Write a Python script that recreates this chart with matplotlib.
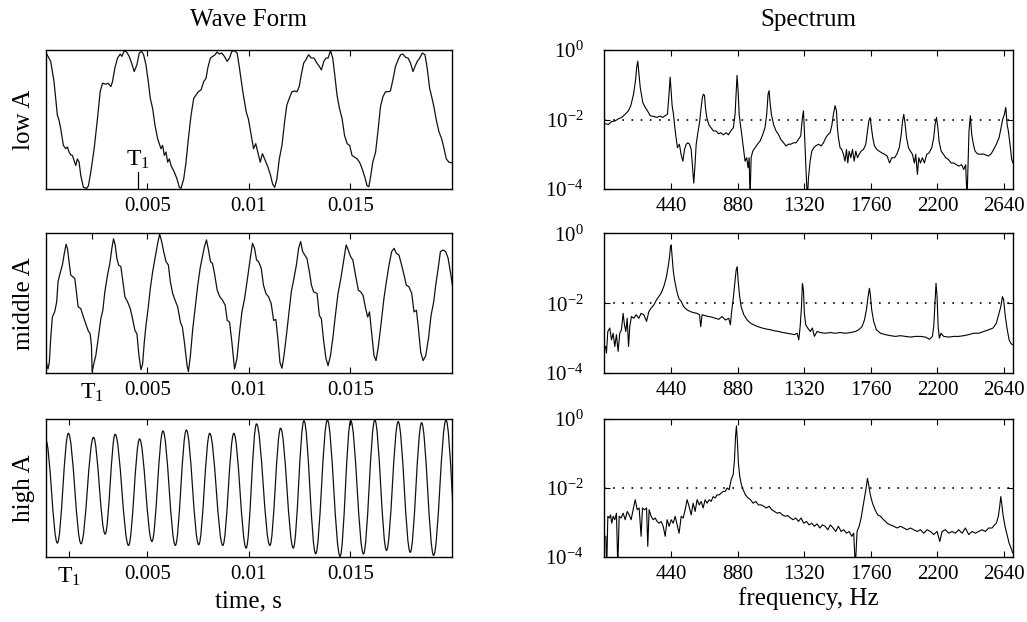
import matplotlib
matplotlib.use('Agg')
import numpy as np
import matplotlib.pyplot as plt
from matplotlib.path import Path
from matplotlib.patches import PathPatch
from matplotlib.ticker import NullLocator

plt.rcParams['font.family'] = ['Liberation Serif', 'DejaVu Serif']
plt.rcParams['mathtext.fontset'] = 'custom'
plt.rcParams['mathtext.rm'] = 'Liberation Serif'
plt.rcParams['mathtext.it'] = 'Liberation Serif:italic'
plt.rcParams['axes.linewidth'] = 1.0

# ---------------- data ----------------
# wave forms: (time in ms, level 0..1 of the panel height)
low_a_wave = [
    (0, 0.985), (0.245, 0.918), (0.410, 0.773), (0.574, 0.531), (0.656, 0.495), (0.739, 0.435),
    (0.870, 0.314), (0.985, 0.290), (1.068, 0.302), (1.150, 0.266), (1.232, 0.246), (1.314, 0.242),
    (1.397, 0.205), (1.479, 0.169), (1.561, 0.217), (1.644, 0.193), (1.726, 0.097), (1.857, 0.012),
    (2.022, 0.005), (2.104, 0.024), (2.219, 0.121), (2.385, 0.290), (2.549, 0.507), (2.681, 0.700),
    (2.796, 0.761), (2.960, 0.754), (3.075, 0.761), (3.207, 0.737), (3.289, 0.773), (3.404, 0.870),
    (3.536, 0.942), (3.668, 0.971), (3.750, 0.954), (3.865, 0.995), (3.980, 0.986), (4.112, 0.954),
    (4.227, 0.906), (4.359, 0.845), (4.490, 0.894), (4.605, 0.978), (4.720, 0.990), (4.819, 0.966),
    (4.935, 0.894), (5.050, 0.773), (5.148, 0.652), (5.263, 0.580), (5.379, 0.459), (5.510, 0.362),
    (5.592, 0.326), (5.675, 0.290), (5.757, 0.314), (5.839, 0.242), (5.921, 0.266), (6.003, 0.193),
    (6.086, 0.217), (6.168, 0.169), (6.333, 0.121), (6.464, 0.072), (6.579, 0.012), (6.661, 0.005),
    (6.793, 0.072), (6.908, 0.193), (7.023, 0.362), (7.155, 0.531), (7.286, 0.652), (7.401, 0.676),
    (7.516, 0.700), (7.648, 0.713), (7.779, 0.773), (7.894, 0.797), (7.977, 0.870), (8.108, 0.942),
    (8.223, 0.954), (8.338, 0.966), (8.437, 0.986), (8.552, 0.971), (8.667, 0.978), (8.799, 0.954),
    (8.931, 0.918), (9.046, 0.942), (9.161, 0.990), (9.293, 0.995), (9.424, 0.978), (9.539, 0.870),
    (9.704, 0.700), (9.869, 0.556), (9.984, 0.500), (10.12, 0.386), (10.23, 0.290), (10.34, 0.326),
    (10.44, 0.266), (10.56, 0.193), (10.67, 0.254), (10.81, 0.205), (10.94, 0.157), (11.05, 0.109),
    (11.17, 0.036), (11.27, 0.012), (11.38, 0.072), (11.50, 0.217), (11.63, 0.314), (11.76, 0.483),
    (11.87, 0.604), (11.99, 0.652), (12.12, 0.700), (12.25, 0.705), (12.37, 0.700), (12.48, 0.737),
    (12.58, 0.821), (12.70, 0.906), (12.81, 0.930), (12.94, 0.966), (13.08, 0.942), (13.21, 0.942),
    (13.35, 0.906), (13.47, 0.882), (13.57, 0.857), (13.69, 0.918), (13.80, 0.942), (13.90, 0.942),
    (14.02, 0.995), (14.13, 0.942), (14.23, 0.821), (14.34, 0.676), (14.46, 0.580), (14.59, 0.507),
    (14.71, 0.386), (14.84, 0.326), (14.96, 0.314), (15.08, 0.242), (15.21, 0.229), (15.33, 0.217),
    (15.45, 0.193), (15.58, 0.145), (15.71, 0.085), (15.82, 0.024), (15.91, 0.017), (15.99, 0.085),
    (16.10, 0.193), (16.24, 0.266), (16.37, 0.435), (16.48, 0.592), (16.60, 0.664), (16.73, 0.700),
    (16.86, 0.700), (16.97, 0.705), (17.09, 0.785), (17.22, 0.882), (17.35, 0.930), (17.47, 0.966),
    (17.58, 0.971), (17.72, 0.947), (17.84, 0.942), (17.96, 0.906), (18.08, 0.845), (18.18, 0.882),
    (18.29, 0.918), (18.41, 0.942), (18.54, 0.978), (18.67, 0.966), (18.78, 0.870), (18.90, 0.725),
    (19.00, 0.664), (19.11, 0.592), (19.23, 0.495), (19.36, 0.411), (19.49, 0.362), (19.61, 0.290),
    (19.72, 0.217), (19.85, 0.193), (20.02, 0.188),
]

middle_a_wave = [
    (0, 0.125), (0.048, 0.065), (0.113, 0.029), (0.179, 0.077), (0.245, 0.245), (0.327, 0.401),
    (0.442, 0.438), (0.541, 0.510), (0.607, 0.654), (0.706, 0.714), (0.821, 0.774), (0.903, 0.846),
    (1.002, 0.923), (1.068, 0.894), (1.150, 0.798), (1.232, 0.702), (1.331, 0.690), (1.430, 0.678),
    (1.512, 0.582), (1.595, 0.474), (1.726, 0.462), (1.858, 0.401), (1.973, 0.353), (2.088, 0.305),
    (2.187, 0.281), (2.250, 0.200), (2.286, 0.010), (2.385, 0.077), (2.467, 0.125), (2.582, 0.245),
    (2.714, 0.389), (2.813, 0.450), (2.911, 0.582), (3.043, 0.702), (3.158, 0.786), (3.257, 0.894),
    (3.339, 0.962), (3.421, 0.918), (3.504, 0.822), (3.586, 0.774), (3.701, 0.762), (3.800, 0.654),
    (3.899, 0.546), (4.030, 0.510), (4.162, 0.462), (4.277, 0.389), (4.392, 0.305), (4.491, 0.281),
    (4.590, 0.125), (4.689, 0.024), (4.771, 0.065), (4.853, 0.221), (4.936, 0.341), (5.051, 0.474),
    (5.150, 0.606), (5.265, 0.726), (5.380, 0.822), (5.511, 0.930), (5.610, 0.995), (5.709, 0.942),
    (5.808, 0.870), (5.923, 0.798), (6.038, 0.774), (6.136, 0.654), (6.252, 0.570), (6.367, 0.522),
    (6.498, 0.474), (6.630, 0.365), (6.729, 0.329), (6.827, 0.221), (6.959, 0.053), (7.025, 0.010),
    (7.124, 0.125), (7.239, 0.317), (7.354, 0.462), (7.486, 0.630), (7.601, 0.750), (7.716, 0.834),
    (7.815, 0.906), (7.914, 0.954), (8.013, 0.882), (8.111, 0.798), (8.210, 0.786), (8.309, 0.714),
    (8.441, 0.594), (8.572, 0.546), (8.704, 0.522), (8.836, 0.486), (8.935, 0.377), (9.050, 0.365),
    (9.165, 0.221), (9.297, 0.029), (9.412, 0.101), (9.544, 0.293), (9.659, 0.438), (9.790, 0.534),
    (9.922, 0.666), (10.07, 0.822), (10.18, 0.930), (10.28, 0.894), (10.38, 0.810), (10.48, 0.798),
    (10.61, 0.750), (10.72, 0.630), (10.84, 0.570), (10.97, 0.546), (11.10, 0.498), (11.22, 0.377),
    (11.33, 0.384), (11.43, 0.245), (11.53, 0.077), (11.63, 0.034), (11.73, 0.125), (11.83, 0.245),
    (11.96, 0.413), (12.09, 0.582), (12.22, 0.678), (12.34, 0.774), (12.45, 0.894), (12.55, 0.942),
    (12.65, 0.870), (12.75, 0.846), (12.86, 0.822), (12.98, 0.726), (13.08, 0.630), (13.19, 0.582),
    (13.36, 0.570), (13.47, 0.413), (13.57, 0.389), (13.69, 0.221), (13.80, 0.101), (13.90, 0.053),
    (14.02, 0.125), (14.13, 0.245), (14.26, 0.413), (14.39, 0.570), (14.53, 0.678), (14.66, 0.798),
    (14.79, 0.918), (14.89, 0.882), (15.01, 0.834), (15.12, 0.810), (15.25, 0.702), (15.39, 0.594),
    (15.50, 0.582), (15.62, 0.558), (15.75, 0.462), (15.85, 0.401), (15.94, 0.438), (16.04, 0.293),
    (16.16, 0.125), (16.26, 0.089), (16.37, 0.185), (16.50, 0.341), (16.65, 0.534), (16.77, 0.654),
    (16.90, 0.774), (17.03, 0.870), (17.15, 0.894), (17.26, 0.858), (17.39, 0.846), (17.52, 0.774),
    (17.64, 0.702), (17.75, 0.630), (17.88, 0.618), (18.02, 0.570), (18.13, 0.438), (18.25, 0.450),
    (18.35, 0.317), (18.46, 0.149), (18.58, 0.089), (18.71, 0.125), (18.84, 0.245), (18.97, 0.413),
    (19.10, 0.510), (19.20, 0.630), (19.32, 0.750), (19.43, 0.870), (19.56, 0.882), (19.69, 0.870),
    (19.81, 0.822), (19.92, 0.726), (20.02, 0.630),
]

# high A is a near sine: its successive peaks and troughs (time in ms, level)
high_a_extrema = [
    (0, 0.850), (0.574, 0.101), (1.117, 0.896), (1.742, 0.096), (2.351, 0.867), (2.926, 0.166),
    (3.420, 0.889), (4.078, 0.084), (4.621, 0.855), (5.230, 0.113), (5.772, 0.913), (6.381, 0.084),
    (6.924, 0.920), (7.532, 0.089), (8.075, 0.896), (8.717, 0.084), (9.260, 0.896), (9.868, 0.065),
    (10.378, 0.964), (11.036, 0.084), (11.563, 0.933), (12.188, 0.065), (12.714, 0.988), (13.290, 0.024),
    (13.866, 0.993), (14.491, 0.005), (15.017, 0.988), (15.642, 0.022), (16.202, 0.993), (16.777, 0.048),
    (17.353, 0.981), (17.945, 0.034), (18.505, 0.973), (19.097, 0.012), (19.706, 0.993), (20.28, 0.030),
]

# spectra: (frequency in Hz, log10 of magnitude)
low_a_spec = [
    (0, -2.12), (26, -2.14), (48, -2.06), (70, -2.04), (92, -1.98), (114, -1.94), (136, -1.85),
    (158, -1.75), (174, -1.60), (192, -1.27), (205, -0.88), (213, -0.49), (220, -0.32), (227, -0.64),
    (236, -1.07), (253, -1.51), (269, -1.65), (284, -1.75), (302, -1.89), (324, -1.91), (346, -1.94),
    (368, -1.90), (385, -1.94), (401, -1.89), (416, -1.85), (425, -1.36), (434, -0.78), (440, -1.17),
    (447, -1.60), (456, -1.85), (465, -2.23), (473, -2.52), (482, -2.81), (495, -2.71), (506, -3.00),
    (518, -3.20), (529, -2.86), (540, -2.71), (551, -2.67), (562, -2.71), (573, -2.86), (584, -3.49),
    (590, -3.83), (597, -3.39), (606, -2.71), (617, -2.38), (628, -2.09), (639, -1.65), (647, -1.36),
    (654, -1.27), (661, -1.31), (667, -1.65), (676, -1.94), (689, -2.14), (703, -2.23), (720, -2.33),
    (738, -2.33), (753, -2.41), (768, -2.38), (786, -2.44), (804, -2.38), (819, -2.44), (835, -2.33),
    (852, -2.23), (863, -1.85), (870, -1.27), (876, -0.73), (883, -1.17), (890, -1.85), (898, -2.14),
    (907, -2.43), (918, -2.81), (929, -3.20), (940, -3.10), (949, -3.39), (956, -3.10), (962, -4.30),
    (969, -3.10), (980, -2.91), (995, -2.81), (1011, -2.71), (1028, -2.62), (1046, -2.43), (1061, -2.23),
    (1072, -1.85), (1081, -1.27), (1088, -1.17), (1094, -1.51), (1103, -1.85), (1117, -2.14),
    (1134, -2.33), (1150, -2.43), (1165, -2.57), (1183, -2.67), (1200, -2.76), (1216, -2.71),
    (1231, -2.71), (1249, -2.67), (1266, -2.67), (1282, -2.57), (1297, -2.47), (1308, -1.94),
    (1315, -1.75), (1324, -2.62), (1333, -3.58), (1341, -4.30), (1348, -3.68), (1359, -3.20),
    (1370, -2.91), (1383, -2.81), (1396, -2.76), (1414, -2.71), (1432, -2.76), (1447, -2.67),
    (1463, -2.52), (1476, -2.44), (1491, -2.38), (1502, -2.18), (1513, -1.85), (1524, -1.60),
    (1533, -1.75), (1539, -2.23), (1546, -2.52), (1557, -2.81), (1568, -2.86), (1579, -3.00),
    (1590, -3.20), (1599, -2.86), (1608, -3.25), (1617, -2.91), (1628, -3.10), (1639, -2.86),
    (1650, -3.20), (1661, -2.91), (1672, -3.10), (1683, -3.00), (1696, -2.91), (1712, -2.86),
    (1727, -2.71), (1738, -2.33), (1747, -2.04), (1756, -1.94), (1764, -2.23), (1773, -2.52),
    (1784, -2.76), (1800, -2.86), (1815, -2.91), (1833, -2.96), (1851, -3.00), (1868, -3.05),
    (1884, -3.25), (1899, -3.10), (1917, -3.10), (1932, -3.00), (1948, -2.81), (1961, -2.43),
    (1970, -2.04), (1978, -1.85), (1987, -2.14), (1996, -2.52), (2009, -2.81), (2022, -2.91),
    (2035, -3.00), (2048, -3.25), (2057, -3.00), (2068, -3.58), (2077, -3.10), (2088, -3.25),
    (2101, -3.10), (2114, -3.25), (2130, -3.00), (2145, -2.96), (2163, -2.81), (2176, -2.52),
    (2185, -2.14), (2194, -1.94), (2203, -2.23), (2211, -2.62), (2225, -2.91), (2240, -3.00),
    (2255, -3.10), (2273, -3.15), (2291, -3.25), (2308, -3.25), (2326, -3.30), (2343, -3.34),
    (2361, -3.30), (2374, -3.44), (2387, -3.30), (2396, -4.30), (2402, -3.39), (2409, -2.33),
    (2418, -1.89), (2427, -2.43), (2438, -2.71), (2449, -2.91), (2466, -2.99), (2484, -3.00),
    (2502, -2.99), (2519, -3.02), (2537, -3.05), (2555, -2.99), (2572, -2.86), (2590, -2.71),
    (2608, -2.52), (2621, -2.23), (2632, -1.99), (2643, -1.85), (2652, -1.65), (2661, -2.14),
    (2669, -2.33), (2680, -2.71), (2691, -3.15), (2700, -3.25),
]

middle_a_spec = [
    (7, -3.24), (13, -3.43), (22, -2.81), (35, -2.71), (46, -3.05), (57, -2.86), (68, -3.24),
    (79, -2.90), (90, -3.38), (101, -2.86), (112, -2.76), (123, -2.29), (132, -2.62), (141, -2.81),
    (150, -2.43), (159, -3.24), (167, -2.67), (178, -2.38), (194, -2.43), (209, -2.33), (227, -2.43),
    (242, -2.29), (260, -2.33), (278, -2.52), (293, -2.24), (308, -2.14), (326, -2.05), (344, -1.90),
    (359, -1.81), (374, -1.71), (392, -1.52), (407, -1.29), (421, -0.95), (430, -0.67), (436, -0.38),
    (441, -0.33), (447, -0.67), (454, -1.05), (463, -1.33), (476, -1.62), (491, -1.86), (507, -1.95),
    (524, -2.10), (546, -2.19), (568, -2.24), (590, -2.27), (612, -2.29), (628, -2.33), (636, -2.67),
    (645, -2.33), (667, -2.36), (689, -2.38), (711, -2.40), (733, -2.43), (755, -2.46), (777, -2.38),
    (799, -2.48), (821, -2.43), (832, -2.62), (839, -2.29), (850, -1.90), (861, -1.43), (870, -1.05),
    (877, -0.95), (883, -1.33), (892, -1.76), (903, -2.10), (921, -2.33), (943, -2.48), (965, -2.57),
    (987, -2.62), (1013, -2.67), (1042, -2.71), (1070, -2.74), (1097, -2.76), (1123, -2.79),
    (1152, -2.81), (1180, -2.84), (1207, -2.86), (1233, -2.88), (1255, -2.90), (1273, -2.86),
    (1284, -3.05), (1293, -2.67), (1302, -2.10), (1308, -1.43), (1315, -1.62), (1321, -2.29),
    (1330, -2.62), (1343, -2.71), (1361, -2.81), (1374, -2.71), (1387, -2.95), (1405, -2.81),
    (1427, -2.84), (1460, -2.86), (1493, -2.84), (1526, -2.86), (1559, -2.84), (1592, -2.86),
    (1625, -2.84), (1658, -2.81), (1680, -2.76), (1702, -2.67), (1718, -2.48), (1731, -2.19),
    (1742, -1.81), (1751, -1.57), (1757, -1.76), (1766, -2.19), (1779, -2.52), (1797, -2.76),
    (1824, -2.86), (1857, -2.90), (1890, -2.93), (1923, -2.95), (1956, -2.93), (1989, -2.95),
    (2022, -2.97), (2055, -2.95), (2088, -2.95), (2121, -2.97), (2149, -3.03), (2167, -2.95),
    (2176, -2.67), (2185, -1.90), (2191, -1.43), (2198, -1.81), (2205, -2.67), (2213, -3.00),
    (2224, -2.86), (2242, -2.95), (2275, -2.97), (2308, -2.95), (2341, -2.95), (2374, -2.93),
    (2407, -2.90), (2440, -2.86), (2473, -2.86), (2506, -2.81), (2539, -2.76), (2568, -2.71),
    (2590, -2.57), (2605, -2.33), (2619, -2.10), (2630, -1.81), (2638, -1.90), (2649, -2.38),
    (2660, -2.71), (2674, -3.05), (2687, -3.16), (2700, -3.19),
]

high_a_spec = [
    (9, -3.40), (15, -4.30), (22, -2.82), (31, -2.87), (40, -2.78), (48, -3.02), (57, -2.82),
    (68, -2.92), (79, -2.73), (88, -4.30), (97, -2.82), (110, -2.87), (123, -2.73), (137, -2.92),
    (150, -2.68), (163, -2.78), (176, -2.92), (189, -2.63), (203, -2.34), (216, -2.63), (229, -2.58),
    (242, -3.40), (251, -2.58), (264, -2.63), (278, -2.58), (286, -3.69), (295, -2.63), (308, -2.82),
    (322, -2.92), (335, -2.87), (348, -2.97), (361, -3.02), (374, -2.97), (388, -3.11), (401, -3.40),
    (414, -2.92), (427, -3.11), (441, -2.92), (454, -3.02), (467, -2.82), (480, -3.07), (493, -3.31),
    (507, -2.82), (520, -2.87), (533, -2.63), (546, -2.34), (559, -2.53), (573, -2.78), (586, -2.44),
    (599, -2.68), (612, -2.34), (626, -2.49), (639, -2.39), (652, -2.58), (665, -2.34), (678, -2.44),
    (692, -2.34), (705, -2.39), (718, -2.25), (731, -2.29), (744, -2.20), (758, -2.20), (771, -2.15),
    (784, -2.10), (797, -2.10), (811, -2.00), (824, -2.05), (837, -1.76), (850, -1.62), (859, -1.19),
    (866, -0.51), (872, -0.20), (879, -0.70), (885, -1.28), (894, -1.67), (905, -1.91), (916, -2.05),
    (932, -2.20), (949, -2.29), (965, -2.34), (982, -2.44), (1000, -2.39), (1017, -2.49),
    (1035, -2.49), (1053, -2.53), (1070, -2.58), (1088, -2.53), (1106, -2.63), (1123, -2.68),
    (1141, -2.73), (1158, -2.71), (1176, -2.78), (1194, -2.82), (1211, -2.80), (1229, -2.87),
    (1247, -2.92), (1264, -2.87), (1282, -2.97), (1299, -2.87), (1317, -3.02), (1335, -2.97),
    (1352, -3.07), (1370, -3.02), (1387, -3.11), (1405, -3.04), (1423, -3.16), (1440, -3.07),
    (1458, -3.11), (1476, -3.21), (1493, -3.07), (1511, -3.16), (1528, -3.26), (1546, -3.11),
    (1564, -3.26), (1581, -3.21), (1599, -3.31), (1617, -3.26), (1634, -3.40), (1647, -3.31),
    (1658, -4.30), (1669, -3.26), (1683, -3.11), (1696, -2.87), (1709, -2.53), (1720, -2.25),
    (1729, -2.00), (1738, -1.72), (1746, -1.91), (1757, -2.20), (1771, -2.44), (1788, -2.63),
    (1806, -2.78), (1824, -2.82), (1845, -2.92), (1868, -3.02), (1890, -3.07), (1912, -3.11),
    (1934, -3.16), (1956, -3.11), (1978, -3.16), (2000, -3.21), (2022, -3.16), (2044, -3.21),
    (2066, -3.26), (2088, -3.21), (2110, -3.31), (2132, -3.21), (2154, -3.26), (2176, -3.35),
    (2198, -3.26), (2216, -3.55), (2231, -3.26), (2253, -3.21), (2275, -3.31), (2297, -3.26),
    (2319, -3.31), (2341, -3.21), (2363, -3.31), (2385, -3.16), (2407, -3.35), (2429, -3.26),
    (2451, -3.31), (2473, -3.26), (2495, -3.21), (2517, -3.26), (2539, -3.16), (2561, -3.16),
    (2577, -3.07), (2590, -3.02), (2603, -2.82), (2612, -2.53), (2619, -2.25), (2625, -2.44),
    (2634, -2.78), (2647, -3.11), (2660, -3.35), (2674, -3.60), (2687, -3.74), (2698, -3.88),
]

row_names = ['low A', 'middle A', 'high A']
periods_s = [0.00455, 0.00227, 0.00114]          # T1 of each note
time_ticks = [0.005, 0.01, 0.015]
time_tick_labels = ['0.005', '0.01', '0.015']
freq_ticks = [440, 880, 1320, 1760, 2200, 2640]
spec_ticks = [1e-4, 1e-2, 1e0]
ref_level = 1e-2

# ---------------- figure ----------------
fig = plt.figure(figsize=(10.27, 6.22), dpi=100)
rows = [(0.6961, 0.2235), (0.4003, 0.2243), (0.1045, 0.2219)]
ax_l = [fig.add_axes([0.0445, b, 0.3956, h]) for b, h in rows]
ax_r = [fig.add_axes([0.5886, b, 0.3978, h]) for b, h in rows]

line_kw = dict(color='#111111', lw=0.9)
T1 = r'$\mathregular{T_1}$'

# wave forms
for wave, ax in zip([low_a_wave, middle_a_wave], ax_l[:2]):
    t, v = zip(*wave)
    ax.plot(np.array(t) * 1e-3, v, **line_kw)

# high A drawn as smooth half-cycles between the read extrema
verts = [(high_a_extrema[0][0] * 1e-3, high_a_extrema[0][1])]
codes = [Path.MOVETO]
for (t0, v0), (t1, v1) in zip(high_a_extrema[:-1], high_a_extrema[1:]):
    d = (t1 - t0) * 0.363 * 1e-3
    verts += [(t0 * 1e-3 + d, v0), (t1 * 1e-3 - d, v1), (t1 * 1e-3, v1)]
    codes += [Path.CURVE4] * 3
ax_l[2].add_patch(PathPatch(Path(verts, codes), fill=False, ec='#111111', lw=0.9))

for i, ax in enumerate(ax_l):
    ax.set_xlim(0, 0.02)
    ax.set_ylim(0, 1)
    ax.set_yticks([])
    ax.tick_params(direction='in', top=True, length=4, width=0.8, labelsize=15, pad=6)
    ax.set_ylabel(row_names[i], fontsize=18, labelpad=8)
    if i == 0:
        ax.set_xticks(time_ticks, time_tick_labels)
        trans = ax.get_xaxis_transform()
        ax.plot([periods_s[0]] * 2, [0, 0.12], color='k', lw=0.9, transform=trans)
        ax.text(periods_s[0], 0.13, T1, transform=trans, ha='center', va='bottom', fontsize=17)
    else:
        ax.set_xticks([periods_s[i]] + time_ticks, [T1] + time_tick_labels)
        ax.get_xticklabels()[0].set_fontsize(17)

ax_l[0].set_title('Wave Form', fontsize=18, pad=17)
ax_l[2].set_xlabel('time, s', fontsize=18, labelpad=2)

# spectra
for spec, ax in zip([low_a_spec, middle_a_spec, high_a_spec], ax_r):
    f, lv = zip(*spec)
    ax.plot(f, 10 ** np.array(lv), color='k', lw=0.8)
    ax.axhline(ref_level, color='k', lw=1.2, ls=(0, (1, 4.5)))
    ax.set_yscale('log')
    ax.set_ylim(1e-4, 1)
    ax.set_xlim(0, 2700)
    ax.set_yticks(spec_ticks)
    ax.yaxis.set_minor_locator(NullLocator())
    ax.set_xticks(freq_ticks, [str(x) for x in freq_ticks])
    ax.tick_params(direction='in', top=True, right=True, length=4, width=0.8,
                   labelsize=15, pad=6)
    ax.tick_params(axis='y', pad=15)

ax_r[0].set_title('Spectrum', fontsize=18, pad=17)
ax_r[2].set_xlabel('frequency, Hz', fontsize=18, labelpad=2)

fig.savefig('out.png', dpi=100)
